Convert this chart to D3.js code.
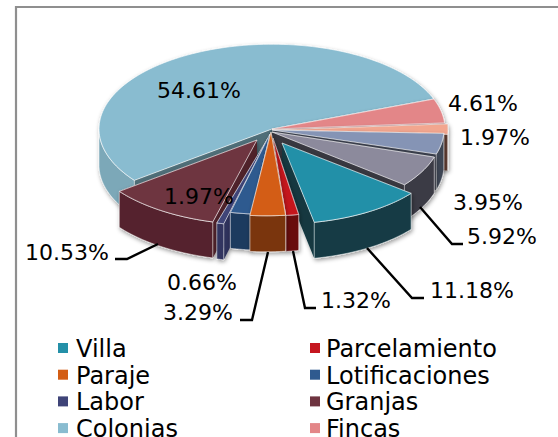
<!DOCTYPE html>
<html><head><meta charset="utf-8">
<script src="https://cdn.jsdelivr.net/npm/d3@7/dist/d3.min.js"></script>
<style>html,body{margin:0;padding:0;background:#fff}svg{display:block}text{font-family:"DejaVu Sans";fill:#000}</style>
</head><body><svg id="c" width="558" height="437"></svg>
<script>
const categories=["Villa","Parcelamiento","Paraje","Lotificaciones","Labor","Granjas","Colonias","Fincas","Otros A","Otros B","Otros C"];
const values=[11.18,1.32,3.29,1.97,0.66,10.53,54.61,4.61,1.97,3.95,5.92];
const legendNames=["Villa","Parcelamiento","Paraje","Lotificaciones","Labor","Granjas","Colonias","Fincas"];

// styling, separate from the data
const topColors=["#2490a8","#c5161f","#d35d14","#2f5a8f","#3f4478","#6e3440","#89bcd0","#e38688","#f2a68f","#8594b5","#8c8a9c"];
const wallColors=["#133b45","#690c10","#7a350f","#1f3a5f","#323660","#54242d","#7ba8b8","#a86466","#6a4238","#3e4452","#3b3a45"];
const pullX=[10,-4,-6,-5,-11,-15,0,0,3,-1,-3];
const pullY=[14,10,2,2,12,11,0,0,1,0,3];
const apexX=[282,273,271,270,268,257,272,272,272,272,272];
const apexY=[143,138,132,134,138,140,129,129,130,130,132];
const radii=[165,157,173,170,173,173,173,173,173,173,173];
const drawOrder=[6,7,8,9,10,0,1,5,4,3,2];
const labelPos=[[25,252],[157,90],[448,103],[460,137],[453,202],[467,236],[430,290],[321,300],[163,312],[164,196],[167,282]];
const labelIdx=[5,6,7,8,9,10,0,1,2,3,4];
const leaders=[[[115,259],[127,259],[158,244]],[[268,252],[252,320],[240,320]],[[293,251],[305,308],[316,308]],[[367,248],[412,298],[424,298]],[[420,207],[452,244],[463,244]]];

const svg=d3.select("#c");
const defs=svg.append("defs");
defs.append("filter").attr("id","sh").attr("x","-20%").attr("y","-20%").attr("width","140%").attr("height","140%")
  .append("feDropShadow").attr("dx",1).attr("dy",2).attr("stdDeviation",2).attr("flood-color","#000").attr("flood-opacity",.4);

const cx=272,cy=129,k=0.49,depth=36,rad=Math.PI/180;
const arcs=d3.pie().sort(null).startAngle(128.5*rad).endAngle((128.5+360)*rad)(values);
const pt=(i,a,r,z=0)=>[cx+pullX[i]+Math.sin(a)*r,cy+pullY[i]-Math.cos(a)*r*k+z];
const apex=(i,z=0)=>[apexX[i],apexY[i]+z];
const line=d3.line();
const sweep=(a,b,n=40)=>d3.range(n+1).map(j=>a+(b-a)*j/n);

// border
svg.append("path").attr("d",line([[16,437],[16,7],[558,7]])).attr("fill","none").attr("stroke","#8f8f8f").attr("stroke-width",2.2);

const pie=svg.append("g");
const edge="rgba(255,255,255,.65)";
drawOrder.forEach(i=>{
  const d=arcs[i],r=radii[i],g=pie.append("g").attr("filter","url(#sh)");
  const A=d.startAngle,B=d.endAngle;
  // radial faces
  [A,B].forEach(a=>{
    g.append("path").attr("d",line([apex(i),pt(i,a,r),pt(i,a,r,depth),apex(i,depth)])+"Z")
     .attr("fill",d3.color(wallColors[i]).darker(i===6?1.2:.15));
  });
  // outer wall: only the part facing the viewer
  const lo=Math.max(A,90*rad),hi=Math.min(B,270*rad);
  const lo2=Math.max(A-2*Math.PI,90*rad),hi2=Math.min(B-2*Math.PI,270*rad);
  [[lo,hi],[lo2,hi2]].forEach(([p,q])=>{
    if(q>p){
      const s=sweep(p,q);
      g.append("path").attr("d",line(s.map(a=>pt(i,a,r)).concat(s.slice().reverse().map(a=>pt(i,a,r,depth))))+"Z")
       .attr("fill",wallColors[i]).attr("stroke",edge).attr("stroke-width",.8);
    }
  });
  // top
  g.append("path").attr("d",line([apex(i)].concat(sweep(A,B,i===6?120:40).map(a=>pt(i,a,r))))+"Z")
   .attr("fill",topColors[i]).attr("stroke",edge).attr("stroke-width",1);
});

// leaders
leaders.forEach(l=>svg.append("path").attr("d",line(l)).attr("fill","none").attr("stroke","#000").attr("stroke-width",2.4));

// data labels
labelIdx.forEach((v,j)=>svg.append("text").attr("x",labelPos[j][0]).attr("y",labelPos[j][1]+8).attr("font-size",22)
  .text(values[v].toFixed(2)+"%"));

// legend
legendNames.forEach((n,j)=>{
  const col=j%2,row=Math.floor(j/2);
  const lx=col?310:58, ly=343+row*26.7;
  svg.append("rect").attr("x",lx).attr("y",ly).attr("width",10).attr("height",10).attr("fill",topColors[j]);
  svg.append("text").attr("x",lx+(col?16:18)).attr("y",ly+14).attr("font-size",24).text(n);
});
</script></body></html>
